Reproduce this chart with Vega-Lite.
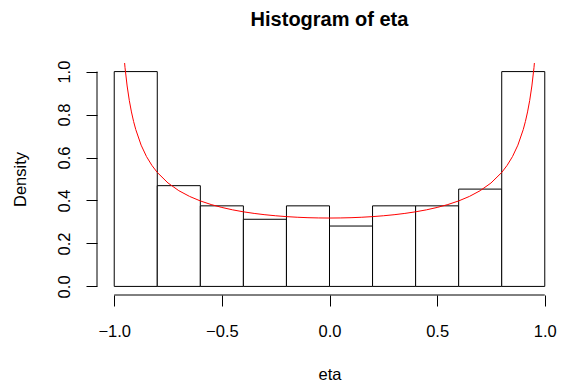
{
  "$schema": "https://vega.github.io/schema/vega-lite/v6.json",
  "autosize": "none",
  "width": 465,
  "height": 232,
  "padding": {"left": 97, "top": 63, "right": 0, "bottom": 88},
  "background": "white",
  "title": {"text": "Histogram of eta", "font": "Liberation Sans", "fontSize": 20, "fontWeight": "bold", "color": "black", "anchor": "middle", "baseline": "alphabetic", "offset": 14},
  "config": {
    "view": {"stroke": null},
    "axis": {"grid": false, "domain": false, "tickColor": "black", "tickSize": 11, "tickWidth": 1, "labelColor": "black", "labelFont": "Liberation Sans", "labelFontSize": 16.5, "titleFont": "Liberation Sans", "titleFontSize": 16.5, "titleFontWeight": "normal", "titleColor": "black"}
  },
  "datasets": {
    "bins": [
      {"x0": -1.0, "x1": -0.8, "density": 1.0},
      {"x0": -0.8, "x1": -0.6, "density": 0.469},
      {"x0": -0.6, "x1": -0.4, "density": 0.375},
      {"x0": -0.4, "x1": -0.2, "density": 0.3125},
      {"x0": -0.2, "x1": 0.0, "density": 0.375},
      {"x0": 0.0, "x1": 0.2, "density": 0.281},
      {"x0": 0.2, "x1": 0.4, "density": 0.375},
      {"x0": 0.4, "x1": 0.6, "density": 0.375},
      {"x0": 0.6, "x1": 0.8, "density": 0.453},
      {"x0": 0.8, "x1": 1.0, "density": 1.0}
    ],
    "curve": [
      {"eta": -0.97, "dens": 1.3094},
      {"eta": -0.96, "dens": 1.1368},
      {"eta": -0.95, "dens": 1.0195},
      {"eta": -0.94, "dens": 0.933},
      {"eta": -0.93, "dens": 0.866},
      {"eta": -0.92, "dens": 0.8122},
      {"eta": -0.91, "dens": 0.7677},
      {"eta": -0.9, "dens": 0.7303},
      {"eta": -0.875, "dens": 0.6575},
      {"eta": -0.85, "dens": 0.6043},
      {"eta": -0.825, "dens": 0.5633},
      {"eta": -0.8, "dens": 0.5305},
      {"eta": -0.75, "dens": 0.4813},
      {"eta": -0.7, "dens": 0.4457},
      {"eta": -0.65, "dens": 0.4189},
      {"eta": -0.6, "dens": 0.3979},
      {"eta": -0.55, "dens": 0.3811},
      {"eta": -0.5, "dens": 0.3676},
      {"eta": -0.45, "dens": 0.3564},
      {"eta": -0.4, "dens": 0.3473},
      {"eta": -0.35, "dens": 0.3398},
      {"eta": -0.3, "dens": 0.3337},
      {"eta": -0.25, "dens": 0.3288},
      {"eta": -0.2, "dens": 0.3249},
      {"eta": -0.15, "dens": 0.322},
      {"eta": -0.1, "dens": 0.3199},
      {"eta": -0.05, "dens": 0.3187},
      {"eta": 0.0, "dens": 0.3183},
      {"eta": 0.05, "dens": 0.3187},
      {"eta": 0.1, "dens": 0.3199},
      {"eta": 0.15, "dens": 0.322},
      {"eta": 0.2, "dens": 0.3249},
      {"eta": 0.25, "dens": 0.3288},
      {"eta": 0.3, "dens": 0.3337},
      {"eta": 0.35, "dens": 0.3398},
      {"eta": 0.4, "dens": 0.3473},
      {"eta": 0.45, "dens": 0.3564},
      {"eta": 0.5, "dens": 0.3676},
      {"eta": 0.55, "dens": 0.3811},
      {"eta": 0.6, "dens": 0.3979},
      {"eta": 0.65, "dens": 0.4189},
      {"eta": 0.7, "dens": 0.4457},
      {"eta": 0.75, "dens": 0.4813},
      {"eta": 0.8, "dens": 0.5305},
      {"eta": 0.825, "dens": 0.5633},
      {"eta": 0.85, "dens": 0.6043},
      {"eta": 0.875, "dens": 0.6575},
      {"eta": 0.9, "dens": 0.7303},
      {"eta": 0.91, "dens": 0.7677},
      {"eta": 0.92, "dens": 0.8122},
      {"eta": 0.93, "dens": 0.866},
      {"eta": 0.94, "dens": 0.933},
      {"eta": 0.95, "dens": 1.0195},
      {"eta": 0.96, "dens": 1.1368},
      {"eta": 0.97, "dens": 1.3094}
    ]
  },
  "layer": [
    {
      "data": {"name": "bins"},
      "mark": {"type": "rect", "fill": "white", "stroke": "black", "strokeWidth": 1},
      "encoding": {
        "x": {"field": "x0", "type": "quantitative", "scale": {"domain": [-1.08, 1.08], "nice": false, "zero": false},
              "axis": {"title": "eta", "values": [-1, -0.5, 0, 0.5, 1], "format": ".1f", "labelPadding": 17, "titlePadding": 40, "titleBaseline": "alphabetic"}},
        "x2": {"field": "x1"},
        "y": {"field": "density", "type": "quantitative", "scale": {"domain": [-0.04, 1.04], "nice": false, "zero": false},
              "axis": {"title": "Density", "values": [0, 0.2, 0.4, 0.6, 0.8, 1.0], "format": ".1f", "labelAngle": -90, "labelAlign": "center", "labelBaseline": "alphabetic", "labelPadding": 17, "titlePadding": 28}},
        "y2": {"datum": 0}
      }
    },
    {
      "data": {"name": "curve"},
      "mark": {"type": "line", "color": "red", "strokeWidth": 1, "clip": true},
      "encoding": {
        "x": {"field": "eta", "type": "quantitative"},
        "y": {"field": "dens", "type": "quantitative"}
      }
    },
    {
      "data": {"values": [{}]},
      "mark": {"type": "rule", "color": "black", "strokeWidth": 1},
      "encoding": {
        "x": {"datum": -1},
        "x2": {"datum": 1},
        "y": {"datum": -0.04}
      }
    },
    {
      "data": {"values": [{}]},
      "mark": {"type": "rule", "color": "black", "strokeWidth": 1},
      "encoding": {
        "y": {"datum": 0},
        "y2": {"datum": 1},
        "x": {"datum": -1.08}
      }
    }
  ]
}
